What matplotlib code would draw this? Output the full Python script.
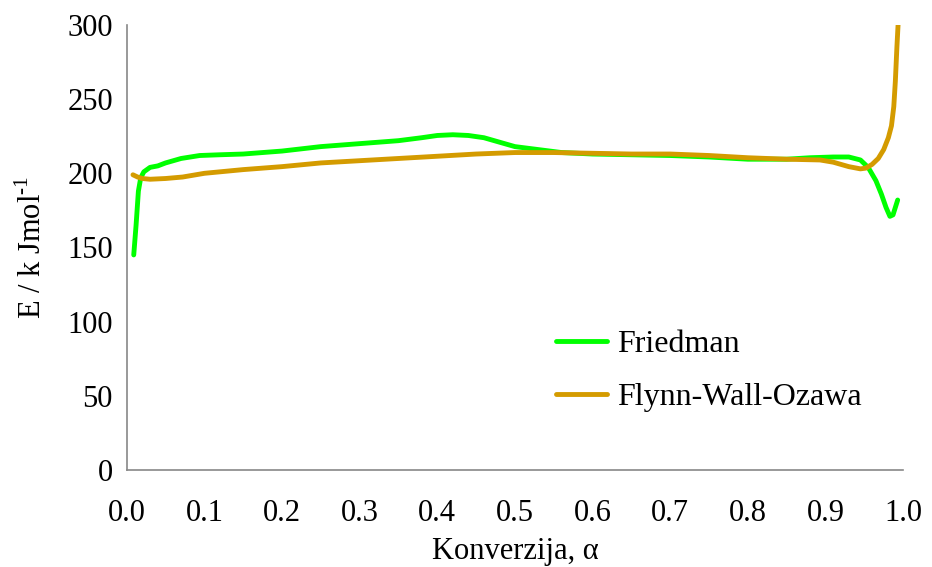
import matplotlib.pyplot as plt

plt.rcParams['font.family'] = ['Liberation Serif', 'DejaVu Serif']
plt.rcParams['mathtext.fontset'] = 'custom'
plt.rcParams['mathtext.rm'] = 'Liberation Serif'

# Friedman
fr_x = [0.009, 0.012, 0.015, 0.018, 0.022, 0.03, 0.04, 0.05, 0.07, 0.094, 0.12, 0.15,
        0.2, 0.25, 0.3, 0.35, 0.38, 0.4, 0.42, 0.44, 0.46, 0.48, 0.5, 0.53, 0.56,
        0.6, 0.65, 0.7, 0.75, 0.8, 0.85, 0.88, 0.91, 0.93, 0.945, 0.955, 0.965,
        0.972, 0.978, 0.983, 0.987, 0.99, 0.993]
fr_y = [145, 165, 188, 197, 201, 204, 205, 207, 210, 212, 212.5, 213,
        215, 218, 220, 222, 224, 225.5, 226, 225.5, 224, 221, 218, 216, 214,
        213, 212.5, 212, 211, 209.5, 209.5, 210.5, 211, 211, 209, 204, 195,
        186, 177, 171, 172, 177, 182]

# Flynn-Wall-Ozawa
fwo_x = [0.008, 0.014, 0.02, 0.03, 0.05, 0.072, 0.1, 0.15, 0.2, 0.25, 0.3, 0.35,
         0.4, 0.45, 0.5, 0.55, 0.6, 0.65, 0.7, 0.75, 0.8, 0.85, 0.893, 0.91,
         0.93, 0.945, 0.952, 0.96, 0.968, 0.975, 0.981, 0.985, 0.988, 0.99,
         0.992, 0.994]
fwo_y = [199, 197.5, 196.5, 196, 196.5, 197.5, 200, 202.5, 204.5, 207, 208.5, 210,
         211.5, 213, 214, 214, 213.5, 213, 213, 212, 210.5, 209.5, 209, 207.5,
         204.5, 203, 203.5, 206, 210, 216, 224, 232, 245, 262,
         285, 305]

fig, ax = plt.subplots(figsize=(9.32, 5.67), dpi=100)
fig.subplots_adjust(left=0.136, right=0.969, bottom=0.171, top=0.956)

ax.plot(fr_x, fr_y, color='#00FF00', lw=3.5, label='Friedman', solid_capstyle='round')
ax.plot(fwo_x, fwo_y, color='#D49B00', lw=3.5, label='Flynn-Wall-Ozawa', solid_capstyle='round')

ax.set_xlim(0, 1.0)
ax.set_ylim(0, 300)
ax.set_xticks([i / 10 for i in range(11)])
ax.set_xticklabels(['0.0', '0.1', '0.2', '0.3', '0.4', '0.5', '0.6', '0.7', '0.8', '0.9', '1.0'])
ax.set_yticks(range(0, 301, 50))
ax.tick_params(length=0, labelsize=22)
ax.tick_params(axis='x', pad=21)
ax.tick_params(axis='y', pad=10)

for s in ['top', 'right']:
    ax.spines[s].set_visible(False)
for s in ['left', 'bottom']:
    ax.spines[s].set_color('#888888')
    ax.spines[s].set_linewidth(1.2)

ax.set_xlabel('Konverzija, α', fontsize=22, labelpad=6)
ax.set_ylabel(r'E / k Jmol$^{\text{-1}}$', fontsize=22, labelpad=14)

ax.legend(loc='upper left', bbox_to_anchor=(0.516, 0.38), frameon=False, fontsize=23,
          handlelength=1.6, labelspacing=0.75, handletextpad=0.3)

fig.savefig('out.png', dpi=100)
